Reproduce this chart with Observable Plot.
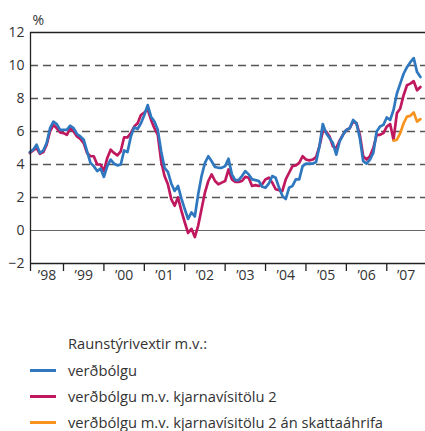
<!DOCTYPE html>
<html><head><meta charset="utf-8">
<script src="https://cdn.jsdelivr.net/npm/d3@7"></script>
<script src="https://cdn.jsdelivr.net/npm/@observablehq/plot@0.6"></script>
<style>
body{margin:0;background:#fff;font-family:"Open Sans",sans-serif;color:#333;}
#wrap{position:relative;width:425px;height:431px;overflow:hidden;}
#legend{position:absolute;left:0;top:290px;width:425px;font-size:14.7px;}
.lt{position:absolute;left:68px;white-space:nowrap;line-height:18px;}
.sw{position:absolute;left:30px;width:26px;height:3px;}
</style></head><body><div id="wrap"><div id="chart"></div><div id="legend"></div></div>
<script>
// monthly series, first value = March 1998 (month index 2 from Jan 1998)
const startMonthIndex = 2;
const blueValues = [4.75,4.9,5.2,4.7,4.85,5.3,6.2,6.6,6.45,6.1,
 6.1,6.1,6.35,6.2,5.85,5.7,5.5,4.8,4.1,3.9,3.6,3.75,
 3.25,3.9,4.3,4.05,3.95,4.0,4.85,4.75,5.7,6.25,6.15,6.5,
 7.0,7.6,6.9,6.6,6.1,4.8,3.8,3.55,2.85,2.4,2.7,1.95,
 1.3,0.7,1.1,0.85,2.2,3.3,4.1,4.5,4.2,3.85,3.8,3.8,
 3.9,4.35,3.4,3.05,3.05,3.3,3.6,3.4,3.1,3.05,3.0,2.65,
 2.6,2.85,3.3,3.2,2.6,2.1,1.9,2.6,2.7,3.1,3.1,3.9,
 4.05,4.05,4.05,4.15,5.1,6.45,5.9,5.6,5.3,4.6,5.4,5.8,
 6.1,6.2,6.7,6.5,5.6,4.2,4.05,4.3,4.7,6.0,6.3,6.4,
 6.85,6.7,7.3,8.3,8.9,9.5,9.9,10.2,10.45,9.6,9.3];
const redValues = [4.7,4.85,5.0,4.65,4.75,5.2,6.0,6.4,6.2,5.95,
 5.9,5.8,6.2,6.0,5.7,5.55,5.3,4.7,4.5,4.5,4.0,4.0,
 3.6,4.4,4.9,4.7,4.55,4.8,5.65,5.65,5.9,6.3,6.5,7.0,
 7.15,7.35,6.7,6.2,5.8,4.2,3.3,2.8,1.9,1.5,2.0,1.2,
 0.5,-0.15,0.1,-0.4,0.3,1.3,2.3,3.0,3.4,3.0,2.8,2.9,
 3.0,3.7,3.1,2.95,2.95,3.0,3.25,3.2,2.7,2.75,2.7,2.8,
 3.1,3.2,2.9,2.5,2.45,2.4,3.1,3.5,3.9,3.95,4.1,4.5,
 4.3,4.25,4.3,4.45,5.1,6.0,6.0,5.7,5.1,5.0,5.45,5.8,
 6.1,6.2,6.6,6.5,5.8,4.5,4.3,4.5,5.0,5.8,5.8,5.9,
 6.3,6.45,5.5,7.1,7.4,8.2,8.8,8.9,9.05,8.5,8.7];
// orange starts at month index 110 (March 2007)
const orangeStartMonthIndex = 110;
const orangeValues = [5.45,5.5,5.9,6.5,6.9,6.95,7.15,6.6,6.75];

const seriesNames = ["verðbólgu","verðbólgu m.v. kjarnavísitölu 2","verðbólgu m.v. kjarnavísitölu 2 án skattaáhrifa"];
const seriesColors = ["#2f78c0","#c0185e","#f7931e"];
const legendTitle = "Raunstýrivextir m.v.:";
const yTicks = [-2,0,2,4,6,8,10,12];
const gridValues = [2,4,6,8,10];
const years = [1998,1999,2000,2001,2002,2003,2004,2005,2006,2007];
const yearLabels = ["’98","’99","’00","’01","’02","’03","’04","’05","’06","’07"];

const x0 = 1998 + 2.2/12, x1 = 1998 + 119.5/12;
const toRows = (vals, start, s) => vals.map((v,i)=>({t:1998+(start+i)/12, v, s}));
const rows = [
  ...toRows(redValues, startMonthIndex, seriesNames[1]),
  ...toRows(blueValues, startMonthIndex, seriesNames[0]),
  ...toRows(orangeValues, orangeStartMonthIndex, seriesNames[2])
];
const yearTicks = [x0, ...years.slice(1)];
const labelPos = years.map(y => (Math.max(y, x0) + Math.min(y+1, x1))/2);

const chart = Plot.plot({
  width:425, height:290, marginLeft:30, marginRight:0, marginTop:32, marginBottom:27,
  x:{domain:[x0,x1]},
  y:{domain:[-2,12]},
  color:{domain:seriesNames, range:seriesColors},
  style:{fontFamily:"Open Sans, sans-serif", fontSize:"14px", color:"#333", background:"#fff"},
  marks:[
    Plot.ruleY(gridValues, {stroke:"#555", strokeWidth:1.3, strokeDasharray:"8,5", strokeOpacity:1}),
    Plot.ruleY([0], {stroke:"#666", strokeWidth:1.1}),
    Plot.line(rows, {x:"t", y:"v", z:"s", stroke:"s", strokeWidth:2.7, strokeLinejoin:"round"}),
    Plot.ruleY([12], {stroke:"#222", strokeWidth:1.3}),
    Plot.ruleY([-2], {stroke:"#222", strokeWidth:1.3}),
    Plot.ruleX([x0], {y1:-2, y2:12, stroke:"#222", strokeWidth:1.3}),
    Plot.axisY({ticks:yTicks, tickSize:0, tickPadding:6, label:null, fontSize:14, fill:"#333"}),
    Plot.axisX({ticks:yearTicks, tickSize:8, tickFormat:()=>"", label:null, stroke:"#222", strokeWidth:1.3}),
    Plot.text(labelPos, {x:d=>d, frameAnchor:"bottom", dy:12, text:(d,i)=>yearLabels[i], fontSize:14, fill:"#333", lineAnchor:"middle"}),
    Plot.text(["%"], {frameAnchor:"top-left", textAnchor:"start", lineAnchor:"bottom", dx:2, dy:-8, fontSize:14, fill:"#333"})
  ]
});
document.getElementById("chart").appendChild(chart);

const legend = document.getElementById("legend");
const title = document.createElement("div");
title.className = "lt"; title.style.top = "44px"; title.textContent = legendTitle;
legend.appendChild(title);
seriesNames.forEach((n,i)=>{
  const sw = document.createElement("div");
  sw.className = "sw"; sw.style.top = (78.5 + i*26) + "px"; sw.style.background = seriesColors[i];
  const t = document.createElement("div");
  t.className = "lt"; t.style.top = (70.5 + i*26) + "px"; t.textContent = n;
  legend.appendChild(sw); legend.appendChild(t);
});
</script>
</body></html>
